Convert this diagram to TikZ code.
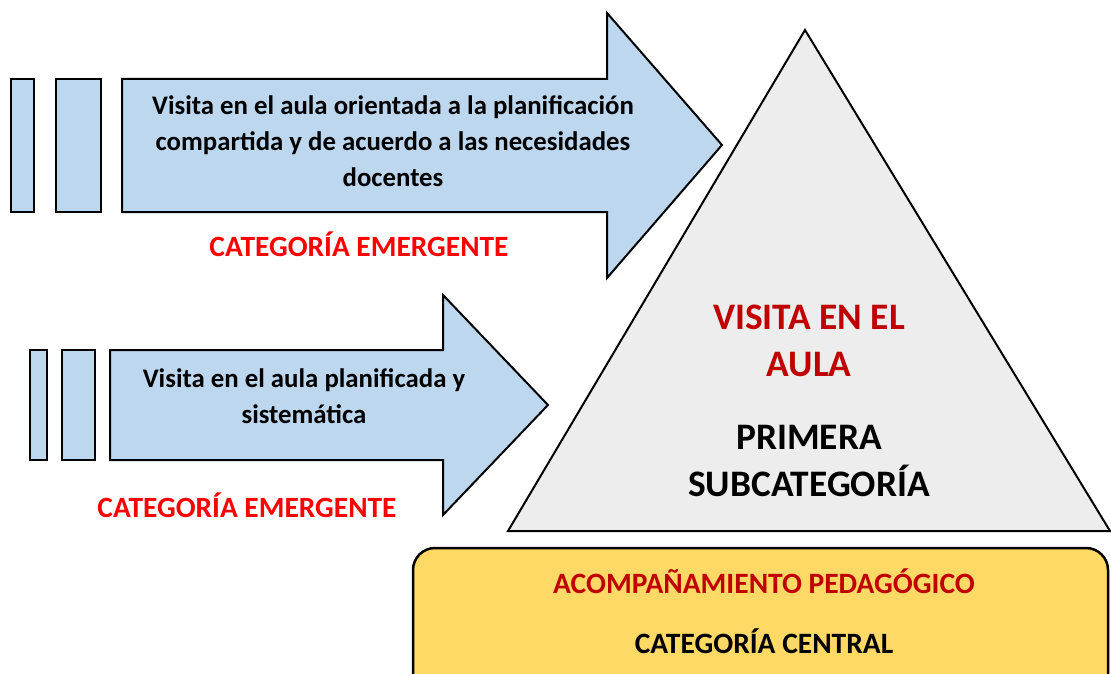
\documentclass[tikz,border=0pt]{standalone}
\usepackage{fontspec}
\setmainfont{Carlito}
\definecolor{arrowblue}{HTML}{BDD7EE}
\definecolor{trigray}{HTML}{EDEDED}
\definecolor{boxgold}{HTML}{FFD966}
\definecolor{darkred}{HTML}{C00000}
\definecolor{brightred}{HTML}{FF0000}
\tikzset{
  shapeline/.style={draw=black, line width=2pt, line join=miter},
  bluefill/.style={shapeline, fill=arrowblue},
  arrowtext/.style={font=\bfseries\fontsize{26.8}{36}\selectfont, align=center, text=black},
  emergent/.style={font=\bfseries\fontsize{29.4}{30}\selectfont, text=brightred},
  tritext/.style={font=\bfseries\fontsize{37.4}{47}\selectfont, align=center},
  boxtext/.style={font=\bfseries\fontsize{29.5}{30}\selectfont},
}
\begin{document}
\begin{tikzpicture}[x=1pt,y=-1pt]
\useasboundingbox (0,0) rectangle (1111,674);
\clip (0,0) rectangle (1111,674);
% upper arrow
\path[bluefill] (11,79) rectangle (34,212);
\path[bluefill] (56,79) rectangle (101,212);
\path[bluefill] (122,79) -- (607,79) -- (607,13) -- (722,145) -- (607,278) -- (607,212) -- (122,212) -- cycle;
\node[arrowtext] (t1) at (393,141) {Visita en el aula orientada a la planificación\\compartida y de acuerdo a las necesidades\\docentes};
\node[emergent] (e1) at (359,244) {CATEGORÍA EMERGENTE};
% lower arrow
\path[bluefill] (30,350) rectangle (47,460);
\path[bluefill] (62,350) rectangle (95,460);
\path[bluefill] (110,350) -- (443,350) -- (443,295) -- (548,405) -- (443,515) -- (443,460) -- (110,460) -- cycle;
\node[arrowtext] (t2) at (304,396) {Visita en el aula planificada y\\sistemática};
\node[emergent] (e2) at (247,505) {CATEGORÍA EMERGENTE};
% triangle
\path[shapeline, fill=trigray] (805,30) -- (1110,531) -- (508,531) -- cycle;
\node[tritext, text=darkred] (v) at (809,341) {VISITA EN EL\\AULA};
\node[tritext, text=black] (p) at (809,461) {PRIMERA\\SUBCATEGORÍA};
% bottom box
\path[draw=black, line width=2.5pt, fill=boxgold, rounded corners=22pt] (413,548) rectangle (1108,700);
\node[boxtext, text=darkred] (a) at (764,581) {ACOMPAÑAMIENTO PEDAGÓGICO};
\node[boxtext, text=black] (c) at (764,641) {CATEGORÍA CENTRAL};
\end{tikzpicture}
\end{document}
